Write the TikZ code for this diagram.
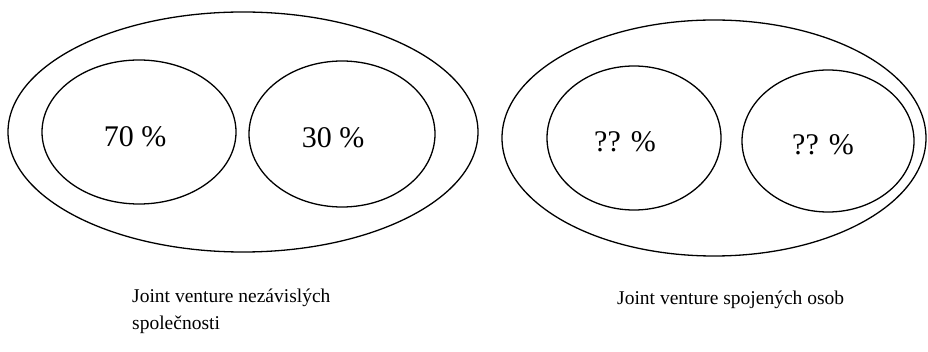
\documentclass[tikz,border=0pt]{standalone}
\usepackage{fontspec}
\setmainfont{Liberation Serif}
\usetikzlibrary{shapes.geometric}
\begin{document}
\begin{tikzpicture}[x=1pt,y=-1pt,
  ring/.style={draw=black,line width=1.3pt},
  pct/.style={font=\fontsize{30}{34}\selectfont},
  lbl/.style={font=\fontsize{19.5}{27}\selectfont,anchor=base west,align=left,inner sep=0pt}]
\useasboundingbox (0,0) rectangle (928,352);
% left group
\draw[ring] (243,132) ellipse [x radius=235,y radius=120];
\draw[ring] (139,132) ellipse [x radius=97,y radius=72];
\draw[ring] (342,134) ellipse [x radius=93,y radius=73];
\node[pct] (a) at (135,137) {70 \%};
\node[pct] (b) at (333,138) {30 \%};
% right group
\draw[ring] (714,138) ellipse [x radius=212,y radius=118];
\draw[ring] (634,138) ellipse [x radius=87,y radius=72];
\draw[ring] (828,141) ellipse [x radius=86,y radius=71];
\node[pct] (c) at (625,142) {?? \%};
\node[pct] (d) at (823,145) {?? \%};
% labels
\node[lbl] (l1) at (132,330) {Joint venture nezávislých\\společnosti};
\node[lbl] (l2) at (617,305) {Joint venture spojených osob};
\end{tikzpicture}
\end{document}
